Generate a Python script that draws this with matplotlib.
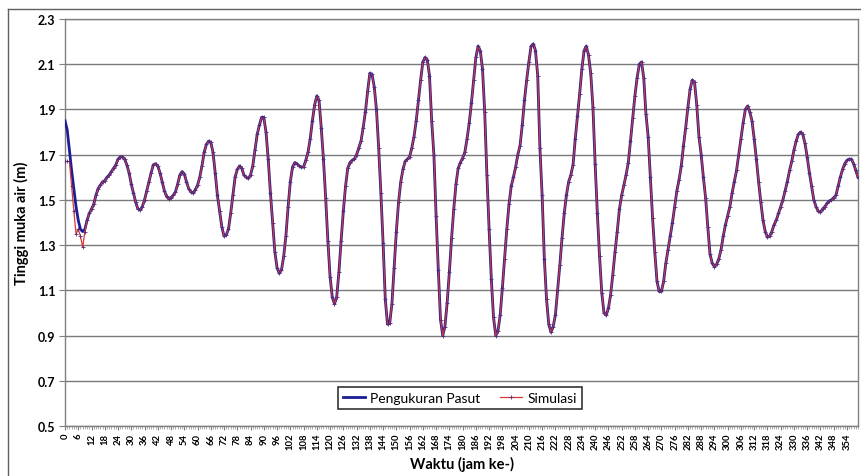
import numpy as np
import matplotlib
matplotlib.use("Agg")
import matplotlib.pyplot as plt
from matplotlib.lines import Line2D
from matplotlib.ticker import MultipleLocator

# ── Data (hourly) ─────────────────────────────────────────────────────────────
pasut = [
    1.85, 1.81, 1.72, 1.63, 1.55, 1.47, 1.41, 1.37, 1.36, 1.37, 1.41, 1.44,
    1.46, 1.48, 1.52, 1.55, 1.565, 1.58, 1.585, 1.60, 1.61, 1.625, 1.64, 1.655,
    1.68, 1.69, 1.69, 1.68, 1.655, 1.62, 1.57, 1.53, 1.49, 1.46, 1.455, 1.47,
    1.50, 1.54, 1.58, 1.62, 1.655, 1.66, 1.65, 1.62, 1.58, 1.54, 1.515, 1.505,
    1.51, 1.52, 1.535, 1.57, 1.61, 1.625, 1.615, 1.58, 1.55, 1.535, 1.53, 1.545,
    1.565, 1.60, 1.65, 1.71, 1.745, 1.76, 1.755, 1.71, 1.62, 1.52, 1.45, 1.38,
    1.34, 1.345, 1.37, 1.44, 1.52, 1.60, 1.635, 1.65, 1.64, 1.61, 1.60, 1.595,
    1.61, 1.65, 1.72, 1.79, 1.83, 1.865, 1.865, 1.80, 1.68, 1.53, 1.40, 1.27,
    1.20, 1.175, 1.19, 1.25, 1.34, 1.47, 1.58, 1.645, 1.665, 1.66, 1.65, 1.645,
    1.645, 1.675, 1.71, 1.77, 1.85, 1.92, 1.96, 1.94, 1.82, 1.68, 1.51, 1.32,
    1.16, 1.07, 1.04, 1.07, 1.18, 1.32, 1.45, 1.56, 1.64, 1.665, 1.675, 1.68,
    1.70, 1.73, 1.76, 1.82, 1.89, 1.98, 2.06, 2.055, 2.00, 1.90, 1.73, 1.53,
    1.31, 1.06, 0.95, 0.955, 1.04, 1.20, 1.36, 1.49, 1.58, 1.635, 1.67, 1.68,
    1.69, 1.73, 1.78, 1.85, 1.94, 2.03, 2.11, 2.13, 2.12, 2.05, 1.85, 1.70,
    1.43, 1.19, 0.97, 0.90, 0.94, 1.045, 1.18, 1.33, 1.46, 1.57, 1.64, 1.665,
    1.685, 1.71, 1.77, 1.84, 1.93, 2.03, 2.13, 2.18, 2.16, 2.08, 1.89, 1.61,
    1.37, 1.15, 0.98, 0.90, 0.92, 0.99, 1.11, 1.24, 1.37, 1.48, 1.56, 1.60,
    1.645, 1.70, 1.74, 1.83, 1.94, 2.03, 2.11, 2.18, 2.19, 2.16, 2.05, 1.73,
    1.52, 1.24, 1.06, 0.95, 0.915, 0.94, 0.99, 1.10, 1.21, 1.33, 1.44, 1.52,
    1.58, 1.61, 1.655, 1.77, 1.87, 1.97, 2.08, 2.16, 2.18, 2.14, 2.06, 1.91,
    1.66, 1.44, 1.25, 1.09, 1.00, 0.99, 1.02, 1.08, 1.17, 1.27, 1.36, 1.46,
    1.52, 1.565, 1.61, 1.665, 1.76, 1.86, 1.96, 2.04, 2.10, 2.11, 2.04, 1.88,
    1.78, 1.60, 1.42, 1.27, 1.14, 1.095, 1.095, 1.14, 1.22, 1.28, 1.34, 1.40,
    1.47, 1.54, 1.59, 1.65, 1.74, 1.82, 1.91, 1.99, 2.03, 2.02, 1.92, 1.78,
    1.70, 1.60, 1.51, 1.38, 1.26, 1.22, 1.205, 1.215, 1.24, 1.28, 1.34, 1.39,
    1.43, 1.47, 1.53, 1.58, 1.63, 1.70, 1.77, 1.84, 1.90, 1.915, 1.89, 1.85,
    1.77, 1.68, 1.58, 1.49, 1.41, 1.36, 1.335, 1.34, 1.36, 1.39, 1.41, 1.44,
    1.47, 1.50, 1.54, 1.58, 1.63, 1.67, 1.72, 1.76, 1.79, 1.80, 1.79, 1.75,
    1.69, 1.62, 1.56, 1.50, 1.47, 1.45, 1.445, 1.46, 1.47, 1.485, 1.495, 1.50,
    1.51, 1.52, 1.56, 1.60, 1.635, 1.66, 1.675, 1.68, 1.68, 1.66, 1.63, 1.60,
]

# simulation differs only during the first hours, then follows the measurement
simulasi_awal = [1.67, 1.67, 1.67, 1.56, 1.45, 1.35, 1.37, 1.34, 1.29, 1.36, 1.41]
simulasi = simulasi_awal + pasut[len(simulasi_awal):]

jam = np.arange(len(pasut))
x_labels = np.arange(0, 360, 6)
y_ticks = [0.5, 0.7, 0.9, 1.1, 1.3, 1.5, 1.7, 1.9, 2.1, 2.3]

# ── Plot ─────────────────────────────────────────────────────────────────────
plt.rcParams["font.family"] = ["Lato", "DejaVu Sans"]

fig = plt.figure(figsize=(8.61, 4.77), dpi=100)
ax = fig.add_axes([65 / 861, 1 - 427 / 477, 793 / 861, 407 / 477])

ax.plot(jam, pasut, color="#1c1c96", lw=2.0, label="Pengukuran Pasut", zorder=3)
ax.plot(jam, simulasi, color="#d23a3a", lw=0.9, marker="+", ms=2.5, mew=0.6,
        mec="#5a2a7a", label="Simulasi", zorder=4)

ax.set_xlim(0, 359)
ax.set_ylim(0.5, 2.3)
ax.set_yticks(y_ticks)
ax.set_yticklabels([f"{v:.1f}" for v in y_ticks], fontsize=9, fontweight="bold")
ax.set_xticks(x_labels)
ax.set_xticklabels([str(v) for v in x_labels], rotation=90, fontsize=6.8,
                   fontweight="bold")
ax.xaxis.set_minor_locator(MultipleLocator(1))
ax.tick_params(axis="x", which="major", length=3, color="#808080", pad=2)
ax.tick_params(axis="x", which="minor", length=2, color="#a0a0a0")
ax.tick_params(axis="y", length=4, color="#808080", pad=3)

ax.grid(axis="y", color="#7a7a7a", lw=1)
ax.set_axisbelow(True)
for s in ax.spines.values():
    s.set_color("#808080")
    s.set_linewidth(1)

ax.set_ylabel("Tinggi muka air (m)", fontsize=10.5, fontweight="bold", labelpad=6)
ax.set_xlabel("Waktu (jam ke-)", fontsize=10.5, fontweight="bold", labelpad=5)

leg = ax.legend(loc="center", bbox_to_anchor=(0.498, 0.069), ncol=2, fontsize=10,
                frameon=True, fancybox=False, handlelength=1.6, columnspacing=1.4,
                borderpad=0.35, handletextpad=0.4)
leg.get_frame().set_edgecolor("black")
leg.get_frame().set_linewidth(1.2)

# chart-area border (left and top visible in the crop)
fig.add_artist(Line2D([8 / 861, 8 / 861], [0, 1 - 10 / 477], color="#606060", lw=1))
fig.add_artist(Line2D([8 / 861, 1], [1 - 10 / 477, 1 - 10 / 477], color="#606060", lw=1))

fig.savefig("out.png", dpi=100)
